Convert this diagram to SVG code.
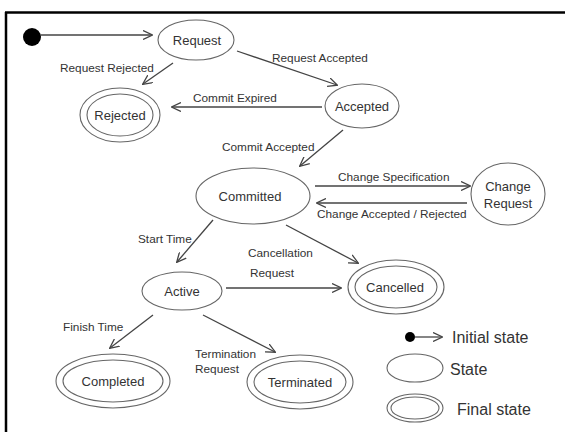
<svg xmlns="http://www.w3.org/2000/svg" width="565" height="432" viewBox="0 0 565 432">
<defs>
<marker id="arr" viewBox="0 0 10 10" refX="9" refY="5" markerWidth="10" markerHeight="10" markerUnits="userSpaceOnUse" orient="auto">
<path d="M0,0.5 L9.5,5 L0,9.5" fill="none" stroke="#444" stroke-width="1.3"/>
</marker>
<style>
.st{fill:#fff;stroke:#666;stroke-width:1.1}
.nt{font-family:"Liberation Sans",Arial,sans-serif;font-size:13px;fill:#333;text-anchor:middle}
.lb{font-family:"Liberation Sans",Arial,sans-serif;font-size:11.8px;fill:#333}
.lg{font-family:"Liberation Sans",Arial,sans-serif;font-size:16px;fill:#333}
.cn{stroke:#444;stroke-width:1.3;fill:none;marker-end:url(#arr)}
</style>
</defs>
<rect width="565" height="432" fill="#fff"/>
<g id="frame">
<line x1="5" y1="12.5" x2="565" y2="12.5" stroke="#000" stroke-width="2.5"/>
<line x1="6" y1="12" x2="6" y2="432" stroke="#000" stroke-width="2.5"/>
</g>
<g id="connectors">
<line class="cn" x1="41" y1="35" x2="152" y2="35"/>
<line class="cn" x1="173" y1="63" x2="143" y2="84"/>
<line class="cn" x1="237" y1="51" x2="337" y2="85"/>
<line class="cn" x1="322" y1="107" x2="172" y2="107"/>
<line class="cn" x1="343" y1="130" x2="300" y2="166"/>
<line class="cn" x1="315" y1="186" x2="470" y2="186"/>
<line class="cn" x1="467" y1="203" x2="317" y2="203"/>
<line class="cn" x1="286" y1="225" x2="358" y2="263"/>
<line class="cn" x1="213" y1="220" x2="177" y2="262"/>
<line class="cn" x1="226" y1="288" x2="341" y2="288"/>
<line class="cn" x1="153" y1="315" x2="110" y2="348"/>
<line class="cn" x1="203" y1="315" x2="275" y2="352"/>
</g>
<g id="labels">
<text class="lb" x="60" y="72">Request Rejected</text>
<text class="lb" x="272" y="62">Request Accepted</text>
<text class="lb" x="193" y="102">Commit Expired</text>
<text class="lb" x="222" y="151">Commit Accepted</text>
<text class="lb" x="338" y="181">Change Specification</text>
<text class="lb" x="317" y="218">Change Accepted / Rejected</text>
<text class="lb" x="138" y="243">Start Time</text>
<text class="lb" x="248" y="257">Cancellation</text>
<text class="lb" x="250" y="277">Request</text>
<text class="lb" x="63" y="331">Finish Time</text>
<text class="lb" x="195" y="358">Termination</text>
<text class="lb" x="195" y="373">Request</text>
</g>
<g id="initial"><circle cx="32" cy="37" r="9" fill="#000"/></g>
<g id="request"><ellipse class="st" cx="196" cy="40" rx="38" ry="20"/><text class="nt" x="197" y="45">Request</text></g>
<g id="rejected"><ellipse class="st" cx="120" cy="115" rx="40" ry="27"/><ellipse class="st" cx="120" cy="115" rx="33" ry="21"/><text class="nt" x="120" y="120">Rejected</text></g>
<g id="accepted"><ellipse class="st" cx="362" cy="106" rx="37" ry="22"/><text class="nt" x="362" y="111">Accepted</text></g>
<g id="committed"><ellipse class="st" cx="253" cy="196" rx="57" ry="28"/><text class="nt" x="250" y="201">Committed</text></g>
<g id="changerequest"><ellipse class="st" cx="508" cy="194" rx="37" ry="31"/><text class="nt" x="508" y="191">Change</text><text class="nt" x="508" y="208">Request</text></g>
<g id="active"><ellipse class="st" cx="182" cy="291" rx="40" ry="19"/><text class="nt" x="182" y="296">Active</text></g>
<g id="cancelled"><ellipse class="st" cx="396" cy="287" rx="48" ry="27"/><ellipse class="st" cx="396" cy="287" rx="41" ry="21"/><text class="nt" x="395" y="292">Cancelled</text></g>
<g id="completed"><ellipse class="st" cx="113" cy="381" rx="57" ry="27"/><ellipse class="st" cx="113" cy="381" rx="50" ry="21"/><text class="nt" x="113" y="386">Completed</text></g>
<g id="terminated"><ellipse class="st" cx="300" cy="382" rx="53" ry="27"/><ellipse class="st" cx="300" cy="382" rx="46" ry="21"/><text class="nt" x="300" y="387">Terminated</text></g>
<g id="legend">
<circle cx="410" cy="337" r="5" fill="#000"/>
<line class="cn" x1="415" y1="337" x2="442" y2="337" stroke="#666" stroke-width="1"/>
<text class="lg" x="452" y="343">Initial state</text>
<ellipse class="st" cx="415" cy="368" rx="28" ry="14"/>
<text class="lg" x="450" y="375">State</text>
<ellipse class="st" cx="415" cy="408" rx="28" ry="14"/>
<ellipse class="st" cx="415" cy="408" rx="24" ry="11"/>
<text class="lg" x="457" y="415">Final state</text>
</g>
</svg>
